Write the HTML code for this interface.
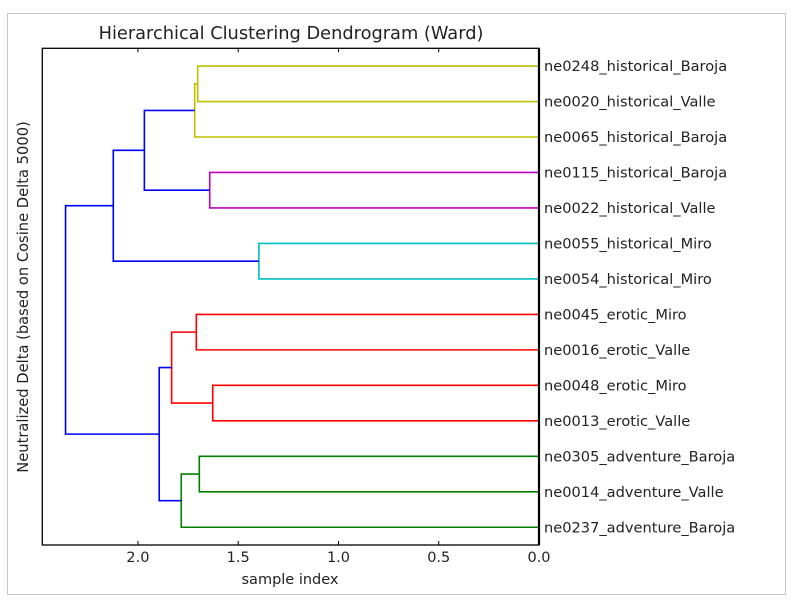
<!DOCTYPE html>
<html><head><meta charset="utf-8"><style>
body{margin:0;background:#fff;}
svg text{font-family:"DejaVu Sans","Liberation Sans",sans-serif;fill:#222;}
</style></head><body>
<svg id="chart" width="796" height="608" viewBox="0 0 796 608" xmlns="http://www.w3.org/2000/svg">
<rect x="7.5" y="13.5" width="778" height="581" fill="#fff" stroke="#c8c8c8" stroke-width="1"/>
<text x="291" y="39" font-size="17.8" text-anchor="middle">Hierarchical Clustering Dendrogram (Ward)</text>
<text x="290" y="584" font-size="14.5" text-anchor="middle">sample index</text>
<text transform="translate(28,297) rotate(-90)" font-size="14.7" text-anchor="middle">Neutralized Delta (based on Cosine Delta 5000)</text>
<g id="links"></g>
<g id="ticks"></g>
<g id="labels"></g>
<rect x="42.3" y="48.3" width="496.7" height="496.7" fill="none" stroke="#000" stroke-width="1.3"/>
<line x1="539" y1="48.3" x2="539" y2="545" stroke="#000" stroke-width="2.2"/>
</svg>
<script>
const leafLabels = ["ne0248_historical_Baroja","ne0020_historical_Valle","ne0065_historical_Baroja","ne0115_historical_Baroja","ne0022_historical_Valle","ne0055_historical_Miro","ne0054_historical_Miro","ne0045_erotic_Miro","ne0016_erotic_Valle","ne0048_erotic_Miro","ne0013_erotic_Valle","ne0305_adventure_Baroja","ne0014_adventure_Valle","ne0237_adventure_Baroja"];
const mergeA = [0,14,3,15,5,17,7,9,20,11,23,22,19];
const mergeB = [1,2,4,16,6,18,8,10,21,12,13,24,25];
const mergeHeights = [1.702,1.717,1.642,1.968,1.397,2.123,1.709,1.627,1.832,1.694,1.784,1.894,2.361];
const mergeColors = ["#bfbf00","#bfbf00","#bf00bf","#0000ff","#00bfbf","#0000ff","#ff0000","#ff0000","#ff0000","#008000","#008000","#0000ff","#0000ff"];
const xTicks = [2.0,1.5,1.0,0.5,0.0];
const xTickLabels = ["2.0","1.5","1.0","0.5","0.0"];

const NS="http://www.w3.org/2000/svg";
const L=42.3,R=539,T=48.3,B=545,XMAX=2.477;
function xs(v){return R-(v/XMAX)*(R-L);}
function ys(i){return T+(i+0.5)*(B-T)/leafLabels.length;}
function mk(tag,attrs,parent){const e=document.createElementNS(NS,tag);for(const k in attrs)e.setAttribute(k,attrs[k]);parent.appendChild(e);return e;}

const pos=[],hgt=[];
leafLabels.forEach((l,i)=>{pos[i]=ys(i);hgt[i]=0;});
const gL=document.getElementById('links');
mergeA.forEach((a,k)=>{
  const b=mergeB[k],h=mergeHeights[k],id=leafLabels.length+k;
  const d=`M${xs(hgt[a])},${pos[a]} H${xs(h)} V${pos[b]} H${xs(hgt[b])}`;
  const p=mk('path',{d:d,fill:'none',stroke:mergeColors[k],'stroke-width':1.6},gL);
  
  
  pos[id]=(pos[a]+pos[b])/2;hgt[id]=h;
});
const gT=document.getElementById('ticks');
xTicks.forEach((v,i)=>{
  const x=xs(v);
  const t1=mk('line',{x1:x,y1:B,x2:x,y2:B-4,stroke:'#000','stroke-width':1},gT);
  
  
  const t2=mk('line',{x1:x,y1:T,x2:x,y2:T+4,stroke:'#000','stroke-width':1},gT);
  
  
  const tx=mk('text',{x:x,y:562,'font-size':14.5,'text-anchor':'middle'},gT);
  tx.textContent=xTickLabels[i];
  
  
});
const gLb=document.getElementById('labels');
leafLabels.forEach((l,i)=>{
  const t=mk('text',{x:544,y:ys(i)+5,'font-size':14.6},gLb);
  t.textContent=l;
  
  
});
</script>
</body></html>
